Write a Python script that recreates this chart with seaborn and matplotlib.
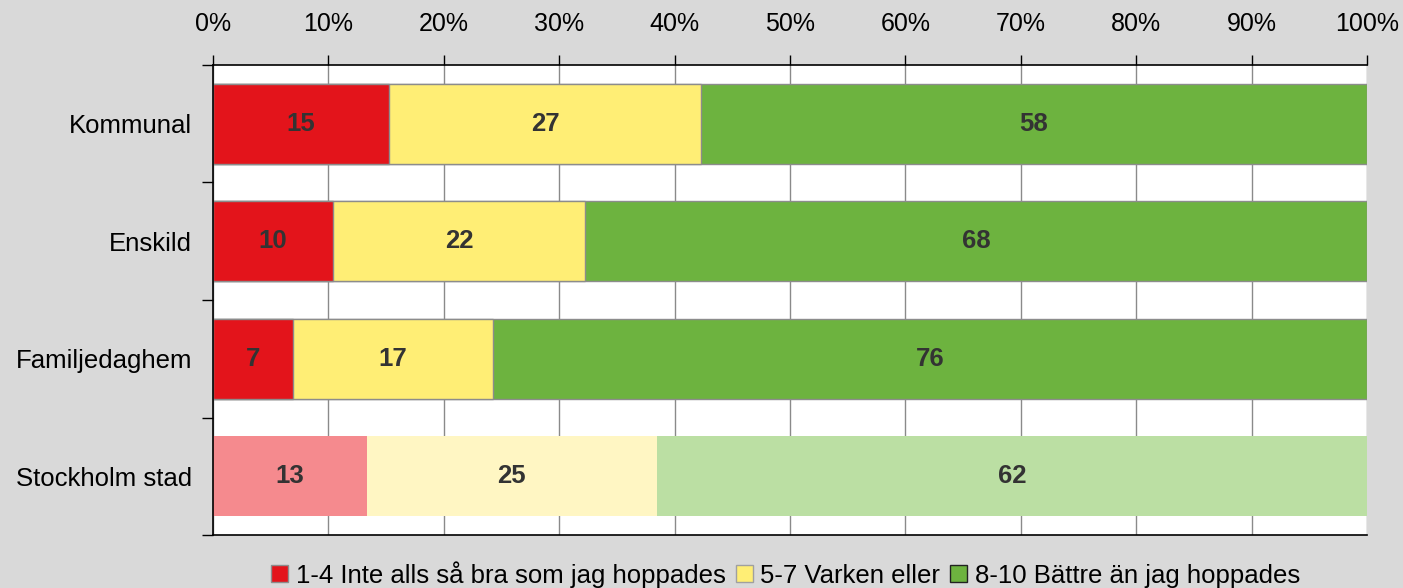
import numpy as np
import pandas as pd
import seaborn as sns
import matplotlib.pyplot as plt
from matplotlib.patches import Patch
from matplotlib.ticker import FixedLocator, PercentFormatter

# data (percent of answers)
groups = ['Kommunal', 'Enskild', 'Familjedaghem', 'Stockholm stad']
low = [15.25, 10.4, 6.93, 13.34]
mid = [27.04, 21.84, 17.33, 25.13]
high = [57.71, 67.76, 75.74, 61.53]
legend_names = ['1-4 Inte alls så bra som jag hoppades', '5-7 Varken eller',
                '8-10 Bättre än jag hoppades']

colors_low = ['#e3141b', '#e3141b', '#e3141b', '#f58a8e']
colors_mid = ['#ffee75', '#ffee75', '#ffee75', '#fff6c3']
colors_high = ['#6db33f', '#6db33f', '#6db33f', '#bbdfa3']

sns.set_style('white')
plt.rcParams['font.family'] = ['Liberation Sans', 'DejaVu Sans']
plt.rcParams['text.color'] = 'black'

df = pd.DataFrame({'group': groups, 'low': low, 'mid': mid, 'high': high})
df['c1'] = df['low']
df['c2'] = df['low'] + df['mid']
df['c3'] = df['c2'] + df['high']

fig = plt.figure(figsize=(14.03, 5.88), dpi=100, facecolor='#d9d9d9')
ax = fig.add_axes([0.1518, 0.0901, 0.8225, 0.7994])
ax.set_facecolor('white')

for col, cols in [('c3', colors_high), ('c2', colors_mid), ('c1', colors_low)]:
    sns.barplot(data=df, x=col, y='group', hue='group', palette=dict(zip(groups, cols)),
                width=0.68, legend=False, ax=ax, zorder=2, linewidth=0, saturation=1)

# grey outline on the three first rows
for p in ax.patches:
    y = p.get_y() + p.get_height() / 2
    if y < 2.6:
        p.set_edgecolor('#8c8c8c')
        p.set_linewidth(1.0)

# value labels
for i in range(len(groups)):
    starts = [0, df['c1'][i], df['c2'][i]]
    vals = [low[i], mid[i], high[i]]
    for s, v in zip(starts, vals):
        ax.text(s + v / 2, i, f'{v:.0f}', ha='center', va='center',
                fontsize=18.5, fontweight='bold', color='#333333', zorder=3)

ax.set_xlim(0, 100)
ax.set_ylim(3.5, -0.5)
ax.xaxis.set_major_locator(FixedLocator(np.arange(0, 101, 10)))
ax.xaxis.set_major_formatter(PercentFormatter(decimals=0))
ax.xaxis.tick_top()
ax.tick_params(axis='x', which='major', direction='out', length=7, width=1,
               color='black', labelcolor='black', labelsize=18, pad=14)
ax.grid(axis='x', color='#8a8a8a', linewidth=1, zorder=0)
ax.set_axisbelow(True)

ax.yaxis.set_minor_locator(FixedLocator([-0.5, 0.5, 1.5, 2.5, 3.5]))
ax.tick_params(axis='y', which='major', length=0, labelsize=18.5, pad=15, labelcolor='black')
ax.tick_params(axis='y', which='minor', direction='out', length=8, width=1, color='black', left=True)
ax.set_xlabel('')
ax.set_ylabel('')

for s in ['top', 'left', 'bottom']:
    ax.spines[s].set_color('black')
    ax.spines[s].set_linewidth(1.2)
ax.spines['right'].set_visible(False)

handles = [Patch(facecolor='#e3141b', edgecolor='#8c8c8c'),
           Patch(facecolor='#ffee75', edgecolor='#a0a0a0'),
           Patch(facecolor='#6db33f', edgecolor='#222222')]
fig.legend(handles, legend_names, loc='center', bbox_to_anchor=(0.56, 0.023), ncol=3,
           frameon=False, fontsize=18.5, handlelength=0.65, handleheight=0.65,
           handletextpad=0.3, columnspacing=0.4)

fig.savefig('out.png', dpi=100, facecolor=fig.get_facecolor())
